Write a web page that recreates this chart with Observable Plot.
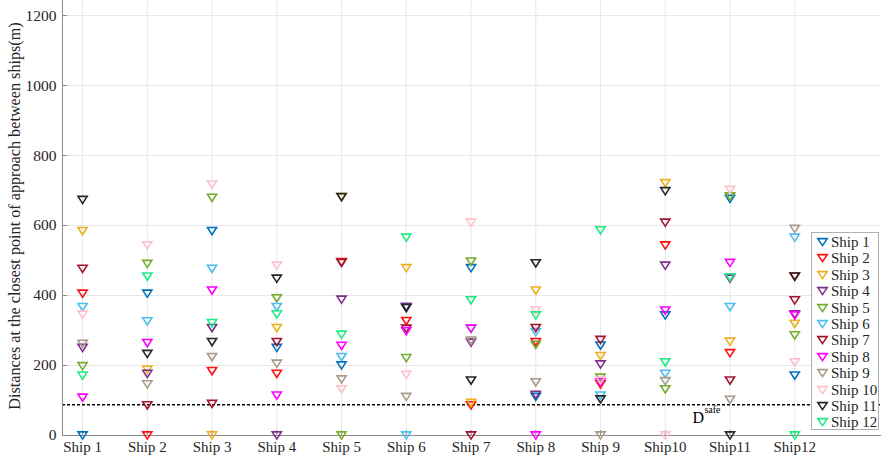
<!DOCTYPE html>
<html><head><meta charset="utf-8">
<script src="https://cdn.jsdelivr.net/npm/d3@7"></script>
<script src="https://cdn.jsdelivr.net/npm/@observablehq/plot@0.6"></script>
<style>
body{margin:0;background:#fff;}
#wrap{position:relative;width:881px;height:462px;font-family:"Liberation Serif","Times New Roman",serif;}
#chart svg text{font-family:"Liberation Serif","Times New Roman",serif;}
#legend{position:absolute;left:811px;top:232px;width:68px;height:198px;background:#fff;border:1px solid #b0b0b0;box-sizing:border-box;}
.lrow{position:absolute;left:0;height:16px;line-height:16px;font-size:15px;color:#262626;white-space:nowrap;}
.lrow svg{position:absolute;left:4px;top:2px;}
.lrow span{position:absolute;left:19px;top:0;}
</style>
</head><body>
<div id="wrap"><div id="chart"></div><div id="legend"></div></div>
<script>
// Column categories (x axis tick labels)
const shipLabels = ["Ship 1","Ship 2","Ship 3","Ship 4","Ship 5","Ship 6","Ship 7","Ship 8","Ship 9","Ship10","Ship11","Ship12"];
// Series (legend) names and colours
const seriesNames = ["Ship 1","Ship 2","Ship 3","Ship 4","Ship 5","Ship 6","Ship 7","Ship 8","Ship 9","Ship 10","Ship 11","Ship 12"];
const seriesColors = ["#0072BD","#FF1010","#EDB120","#7E2F8E","#77AC30","#4DBEEE","#A2142F","#FF00FF","#A89C88","#FFC0CB","#262626","#1EEB84"];
// CPA distance of each series ship, in each column ship (m)
const ship1  = [0,   405, 584, 250, 200, 367, 478, 110, 257, 343, 676, 171];
const ship2  = [405, 0,   184, 176, 495, 327, 86,  267, 146, 543, 235, 454];
const ship3  = [584, 188, 0,   307, 681, 478, 93,  414, 227, 721, 268, 319];
const ship4  = [250, 176, 307, 0,   388, 367, 265, 116, 203, 485, 448, 346];
const ship5  = [198, 490, 679, 392, 0,   221, 497, 259, 165, 132, 683, 286];
const ship6  = [367, 326, 476, 367, 224, 0,   305, 295, 114, 176, 367, 565];
const ship7  = [476, 86,  90,  267, 493, 305, 0,   307, 273, 608, 157, 386];
const ship8  = [108, 264, 414, 114, 256, 298, 305, 0,   152, 357, 493, 343];
const ship9  = [262, 146, 224, 205, 160, 110, 271, 152, 0,   155, 102, 590];
const ship10 = [345, 543, 717, 485, 132, 173, 608, 357, 158, 0,   702, 209];
const ship11 = [673, 233, 267, 448, 681, 364, 157, 492, 103, 698, 0,   454];
const ship12 = [171, 454, 321, 346, 288, 565, 386, 343, 586, 209, 452, 0];
const dSafe = 88;
const yTicks = [0, 200, 400, 600, 800, 1000, 1200];

const seriesValues = [ship1, ship2, ship3, ship4, ship5, ship6, ship7, ship8, ship9, ship10, ship11, ship12];
const data = seriesValues.flatMap((vals, s) => vals.map((v, c) => ({col: c + 1, value: v, series: seriesNames[s]})));
const cols = shipLabels.map((_, i) => i + 1);

const xDomain = [0.69, 13.34];
const yDomain = [0, 1243];

const downTriangle = {
  draw(ctx, size) {
    const r = Math.sqrt(size / Math.PI);
    const w = r * 0.92, h = r * 0.72;
    ctx.moveTo(-w, -h); ctx.lineTo(w, -h); ctx.lineTo(0, h); ctx.closePath();
  }
};

const serif = "Liberation Serif, Times New Roman, serif";
const chart = Plot.plot({
  width: 881, height: 462,
  marginLeft: 62, marginRight: 0, marginTop: 0, marginBottom: 27,
  style: {fontFamily: serif, fontSize: "15px", color: "#262626", background: "#fff"},
  x: {domain: xDomain, axis: null},
  y: {domain: yDomain, axis: null},
  color: {domain: seriesNames, range: seriesColors},
  marks: [
    Plot.gridX(cols, {stroke: "#e8e8e8", strokeOpacity: 1}),
    Plot.gridY(yTicks, {stroke: "#e8e8e8", strokeOpacity: 1}),
    Plot.ruleY([dSafe], {stroke: "#000", strokeWidth: 1.5, strokeDasharray: "3,2"}),
    Plot.ruleX([xDomain[0]], {stroke: "#8a8a8a"}),
    Plot.ruleY([0], {stroke: "#8a8a8a"}),
    Plot.ruleY(yTicks, {x1: xDomain[0], x2: xDomain[0] + 0.08, stroke: "#8a8a8a"}),
    Plot.ruleX(cols, {y1: 0, y2: 14, stroke: "#8a8a8a"}),
    Plot.axisY(yTicks, {tickSize: 0, tickPadding: 6, fontSize: 15.5, fill: "#262626", label: null, tickFormat: d => String(d)}),
    Plot.axisX(cols, {tickSize: 0, tickPadding: 6, fontSize: 15, fill: "#262626", label: null, tickFormat: d => shipLabels[d - 1]}),
    Plot.text(["Distances at the closest point of approach between ships(m)"], {frameAnchor: "left", textAnchor: "middle", rotate: -90, dx: -48, dy: -2, fontSize: 16.2, fill: "#262626", text: d => d}),
    Plot.dot(data, {x: "col", y: "value", stroke: "series", symbol: downTriangle, r: 5, strokeWidth: 1.6, fill: "none"}),
    Plot.text([dSafe], {x: 10.42, y: d => d, text: () => "D", textAnchor: "start", lineAnchor: "bottom", dy: 18, fontSize: 16, fill: "#000"}),
    Plot.text([dSafe], {x: 10.42, y: d => d, text: () => "safe", textAnchor: "start", lineAnchor: "bottom", dx: 12, dy: 8, fontSize: 10, fill: "#000"})
  ]
});
document.getElementById("chart").appendChild(chart);

const legend = document.getElementById("legend");
seriesNames.forEach((name, i) => {
  const row = document.createElement("div");
  row.className = "lrow";
  row.style.top = (1 + i * 16.4) + "px";
  row.innerHTML = `<svg width="13" height="12"><path d="M1.8,2.6 L11.2,2.6 L6.5,9.6 Z" fill="none" stroke="${seriesColors[i]}" stroke-width="1.6"/></svg><span>${name}</span>`;
  legend.appendChild(row);
});
</script>
</body></html>
